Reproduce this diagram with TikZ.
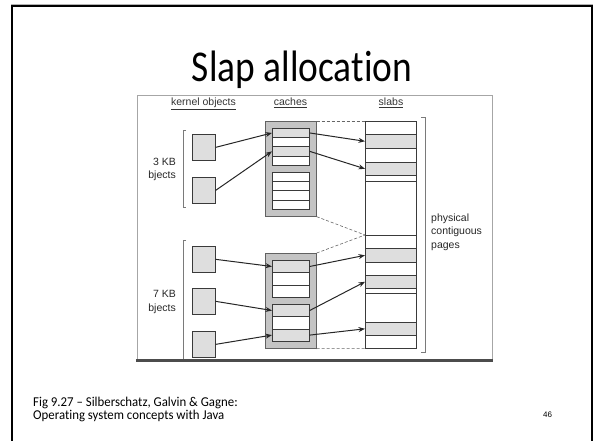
\documentclass[tikz,border=0pt]{standalone}
\usepackage{fontspec}
\setmainfont{Liberation Sans}
\newfontfamily\titlefont[FakeStretch=0.85,Ligatures={NoCommon,TeX}]{Carlito}
\newfontfamily\capfont[FakeStretch=0.95,Ligatures={NoCommon,TeX}]{Carlito}
\usetikzlibrary{arrows.meta}
\definecolor{lgray}{HTML}{DEDEDE}
\definecolor{mgray}{HTML}{C4C4C4}
\definecolor{lnc}{HTML}{3A3A3A}
\definecolor{brk}{HTML}{7A7A7A}
\tikzset{
  objbox/.style={draw=lnc, fill=lgray, line width=0.7pt, inner sep=0pt, anchor=north west, minimum width=23pt, minimum height=26pt},
  cachegrp/.style={draw=lnc!80, fill=mgray, line width=0.7pt, inner sep=0pt, anchor=north west, minimum width=51pt},
  slotbox/.style={draw=lnc, fill=white, line width=0.7pt, inner sep=0pt, anchor=north west, minimum width=37pt},
  slotsh/.style={slotbox, fill=lgray},
  slabrow/.style={draw=lnc, fill=lgray, line width=0.6pt, inner sep=0pt, anchor=north west, minimum width=51pt},
  ptr/.style={-{Stealth[length=6.5pt,width=5pt]}, line width=1pt, draw=black!85},
  dsh/.style={dashed, dash pattern=on 3pt off 2pt, draw=black!60, line width=0.6pt},
  brack/.style={draw=brk, line width=0.8pt},
  hdr/.style={font=\fontsize{10.5}{12}\selectfont, text=black!80, inner sep=0pt, anchor=base},
  lbl/.style={font=\fontsize{10.5}{12}\selectfont, text=black!85, inner sep=0pt},
}
\begin{document}
\begin{tikzpicture}[x=1pt, y=-1pt]
\useasboundingbox (0,0) rectangle (595,441);
% slide frame
\draw[gray!60, line width=0.8pt] (11,4) -- (593,4);
\draw[black, line width=2pt] (11.5,445) -- (11.5,6) -- (592,6) -- (592,445);
% title
\node[font=\titlefont\fontsize{44}{48}\selectfont, anchor=base, inner sep=0pt] (title) at (302,82) {Slap allocation};
% figure frame
\draw[gray!70, line width=0.8pt] (137,361) -- (137,95) -- (492,95) -- (492,361);
\draw[black!70, line width=3pt] (136,360.5) -- (493,360.5);
% headers
\node[hdr] (hk) at (203.5,106) {\underline{kernel objects}};
\node[hdr] (hc) at (290.5,106) {\underline{caches}};
\node[hdr] (hs) at (391,106) {\underline{slabs}};
% left labels
\node[lbl, anchor=base east] (l3a) at (176,166) {3 KB};
\node[lbl, anchor=base east] (l3b) at (176,179) {bjects};
\node[lbl, anchor=base east] (l7a) at (176,297) {7 KB};
\node[lbl, anchor=base east] (l7b) at (176,311) {bjects};
\node[lbl, anchor=base west] (p1) at (431,222) {physical};
\node[lbl, anchor=base west] (p2) at (431,235) {contiguous};
\node[lbl, anchor=base west] (p3) at (431,248) {pages};
% brackets
\draw[brack] (186,130) -- (183,130) -- (183,207) -- (186,207);
\draw[brack] (186,240) -- (183,240) -- (183,359);
\draw[brack] (421,117) -- (425,117) -- (425,352) -- (421,352);
% kernel objects
\node[objbox] (k1) at (192,134) {};
\node[objbox] (k2) at (192,177) {};
\node[objbox] (k3) at (192,246) {};
\node[objbox] (k4) at (192,288) {};
\node[objbox] (k5) at (192,331) {};
% caches
\node[cachegrp, minimum height=95pt] (c1) at (265,121) {};
\node[slotsh, minimum height=9.2pt] (a1) at (272,128) {};
\node[slotbox, minimum height=9.2pt] (a2) at (272,137.2) {};
\node[slotsh, minimum height=9.2pt] (a3) at (272,146.4) {};
\node[slotbox, minimum height=9.2pt] (a4) at (272,155.6) {};
\node[slotbox, minimum height=9.2pt] (a5) at (272,172) {};
\node[slotbox, minimum height=9.2pt] (a6) at (272,181.2) {};
\node[slotbox, minimum height=9.2pt] (a7) at (272,190.4) {};
\node[slotbox, minimum height=9.2pt] (a8) at (272,199.6) {};
\node[cachegrp, minimum height=95pt] (c2) at (265,253) {};
\node[slotsh, minimum height=12.3pt] (b1) at (272,260) {};
\node[slotbox, minimum height=12.3pt] (b2) at (272,272.3) {};
\node[slotbox, minimum height=12.3pt] (b3) at (272,284.6) {};
\node[slotsh, minimum height=12.3pt] (b4) at (272,304) {};
\node[slotbox, minimum height=12.3pt] (b5) at (272,316.3) {};
\node[slotsh, minimum height=12.3pt] (b6) at (272,328.6) {};
% slabs
\node[draw=lnc, fill=white, line width=0.6pt, inner sep=0pt, anchor=north west, minimum width=51pt, minimum height=227pt] (sc) at (365,121) {};
\node[slabrow, minimum height=14pt] (s1) at (365,134) {};
\node[slabrow, minimum height=13pt] (s2) at (365,162) {};
\node[slabrow, minimum height=14pt] (s3) at (365,248) {};
\node[slabrow, minimum height=13pt] (s4) at (365,275) {};
\node[slabrow, minimum height=13pt] (s5) at (365,322) {};
\foreach \yy in {181,235,293}{\draw[lnc, line width=0.6pt] (365,\yy) -- (416,\yy);}
\coordinate (sj) at (365,235);
% dashed guides
\draw[dsh] (c1.north east) -- (sc.north west);
\draw[dsh] (c1.south east) -- (sj);
\draw[dsh] (c2.north east) -- (sj);
\draw[dsh] (c2.south east) -- (sc.south west);
% pointers
\draw[ptr] (k1.east) -- (a1.west);
\draw[ptr] (k2.east) -- (a3.west);
\draw[ptr] (a1.east) -- (s1.west);
\draw[ptr] (a3.east) -- (s2.west);
\draw[ptr] (k3.east) -- (b1.west);
\draw[ptr] (k4.east) -- (b4.west);
\draw[ptr] (k5.east) -- (b6.west);
\draw[ptr] (b1.east) -- (s3.west);
\draw[ptr] (b4.east) -- (s4.west);
\draw[ptr] (b6.east) -- (s5.west);
% caption
\node[font=\capfont\fontsize{13.5}{15}\selectfont, anchor=base west, inner sep=0pt] (cap1) at (33,406) {Fig 9.27 – Silberschatz, Galvin \& Gagne:};
\node[font=\capfont\fontsize{13.5}{15}\selectfont, anchor=base west, inner sep=0pt] (cap2) at (33,419) {Operating system concepts with Java};
\node[font=\fontsize{8}{10}\selectfont, anchor=base, inner sep=0pt] (pg) at (547.5,417) {46};
\end{tikzpicture}
\end{document}
